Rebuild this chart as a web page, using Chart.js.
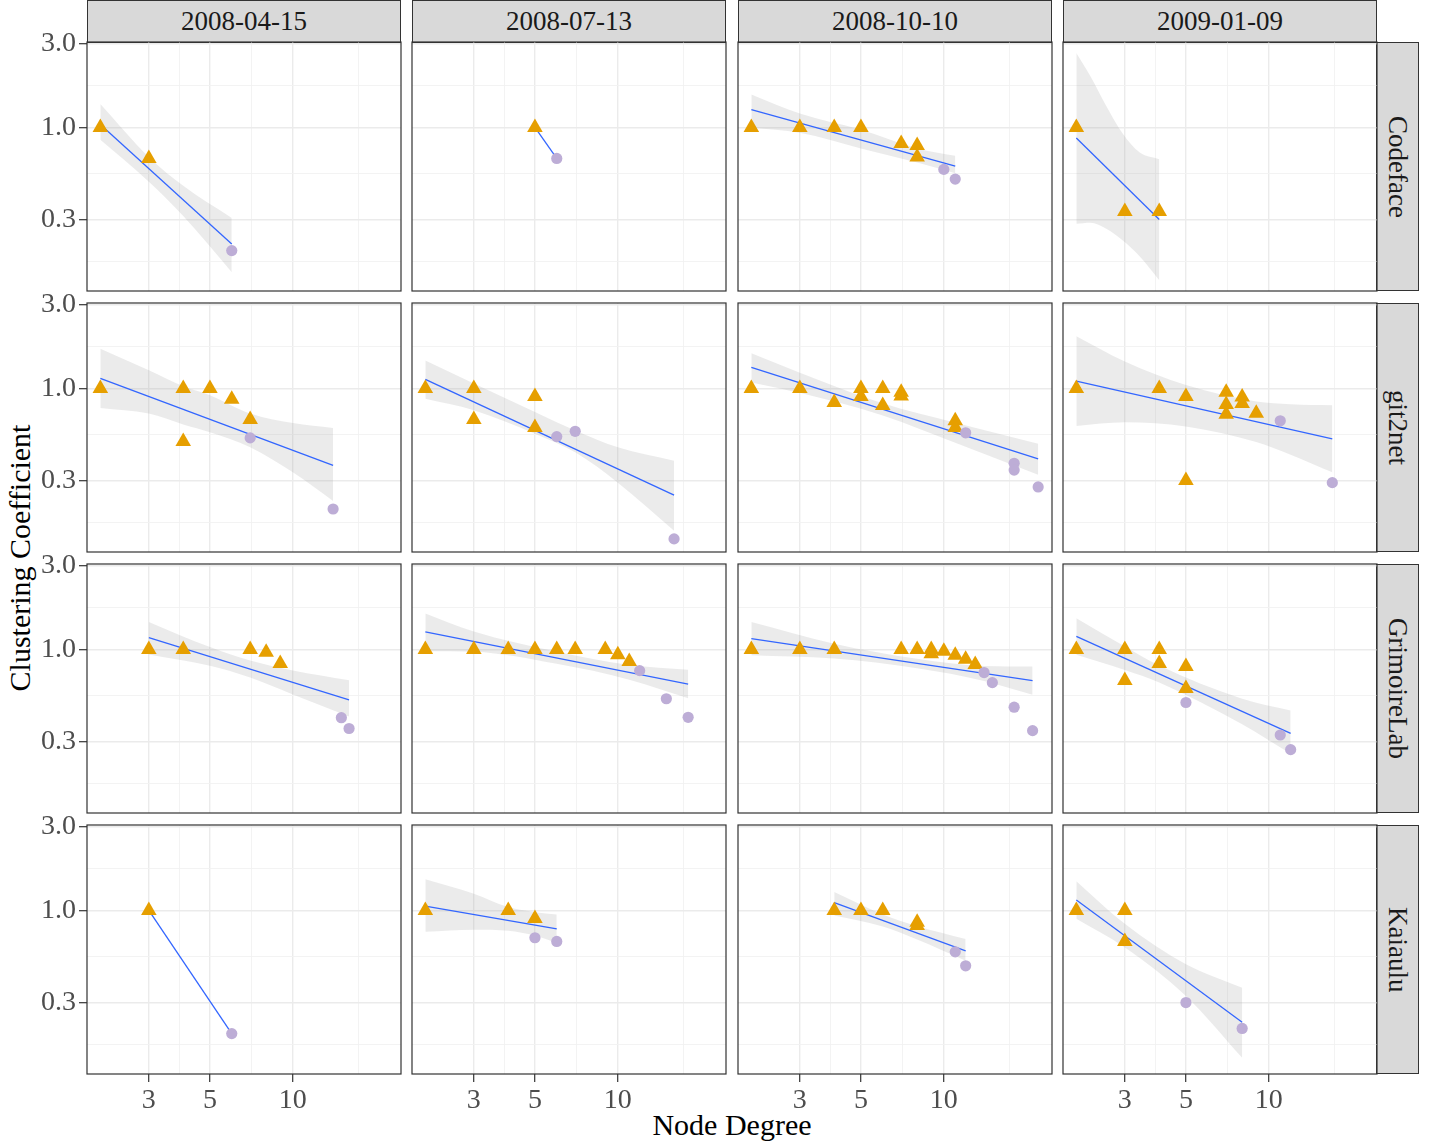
<!DOCTYPE html>
<html lang="en">
<head>
  <meta charset="UTF-8">
  <title>Clustering Coefficient vs Node Degree</title>
  <style>
    body { margin: 0; background: #fff; }
    #page {
      position: relative;
      width: 1437px;
      height: 1142px;
      background: #fff;
      font-family: 'Liberation Serif', 'DejaVu Serif', serif;
      overflow: hidden;
    }
    canvas { position: absolute; }
    .strip {
      position: absolute;
      box-sizing: border-box;
      background: #D9D9D9;
      border: 1px solid #333333;
      color: #1A1A1A;
      font-size: 27px;
      display: flex;
      align-items: center;
      justify-content: center;
    }
    .strip.right span { writing-mode: vertical-rl; }
    .title { position: absolute; font-size: 30px; color: #000; white-space: nowrap; }
  </style>
</head>
<body>
  <div id="page">
    <div class="title" style="left:87px; width:1290px; top:1108px; text-align:center;">Node Degree</div>
    <div class="title" style="left:20px; top:558px; transform:translate(-50%,-50%) rotate(-90deg);">Clustering Coefficient</div>
  </div>
  <script src="https://cdn.jsdelivr.net/npm/chart.js"></script>
  <script>
    // facettes : lignes = sources, colonnes = dates
    const sources = ['Codeface', 'git2net', 'GrimoireLab', 'Kaiaulu'];
    const dates = ['2008-04-15', '2008-07-13', '2008-10-10', '2009-01-09'];

    // graduations (log10)
    const degreeTicks = [3, 5, 10];
    const degreeGrid = [3, 3.873, 5, 7.071, 10, 17.32];
    const coefTicks = [0.3, 1, 3];
    const coefGrid = [0.1732, 0.3, 0.5477, 1, 1.732, 3];

    // triangles (orange), un tableau par panneau, ligne par ligne
    const triDegree = [
      [2, 3], [5], [2, 3, 4, 5, 7, 8, 8], [2, 3, 4],
      [2, 4, 5, 6, 7, 4], [2, 3, 3, 5, 5], [2, 3, 4, 5, 5, 6, 6, 7, 7, 11, 11], [2, 4, 5, 5, 7, 7, 7, 8, 8, 9],
      [3, 4, 7, 8, 9], [2, 3, 4, 5, 6, 7, 9, 10, 11], [2, 3, 4, 7, 8, 9, 9, 10, 11, 12, 13], [2, 3, 3, 4, 4, 5, 5],
      [3], [2, 4, 5], [4, 5, 6, 8, 8], [2, 3, 3]
    ];
    const triCoef = [
      [1, 0.667], [1], [1, 1, 1, 1, 0.81, 0.79, 0.68], [1, 0.333, 0.333],
      [1, 1, 1, 0.867, 0.667, 0.5], [1, 1, 0.667, 0.9, 0.6], [1, 1, 0.833, 1, 0.9, 1, 0.8, 0.952, 0.905, 0.655, 0.6], [1, 1, 0.9, 0.3, 0.952, 0.81, 0.714, 0.893, 0.821, 0.722],
      [1, 1, 1, 0.964, 0.833], [1, 1, 1, 1, 1, 1, 1, 0.933, 0.855], [1, 1, 1, 1, 1, 1, 0.944, 0.976, 0.927, 0.879, 0.82], [1, 1, 0.667, 1, 0.833, 0.8, 0.6],
      [1], [1, 1, 0.9], [1, 1, 1, 0.857, 0.821], [1, 1, 0.667]
    ];

    // cercles (violet)
    const circDegree = [
      [6], [6], [10, 11], [],
      [7, 14], [6, 7, 16], [12, 18, 18, 22], [11, 17],
      [15, 16], [12, 15, 18], [14, 15, 18, 21], [5, 11, 12],
      [6], [5, 6], [11, 12], [5, 8]
    ];
    const circCoef = [
      [0.2], [0.667], [0.578, 0.509], [],
      [0.524, 0.207], [0.533, 0.571, 0.14], [0.56, 0.376, 0.344, 0.276], [0.655, 0.292],
      [0.41, 0.356], [0.758, 0.525, 0.412], [0.739, 0.648, 0.47, 0.346], [0.5, 0.327, 0.27],
      [0.2], [0.7, 0.667], [0.582, 0.485], [0.3, 0.214]
    ];

    // droite de regression (extremites)
    const fitDegree = [
      [2, 6], [5, 6], [2, 11], [2, 4],
      [2, 14], [2, 16], [2, 22], [2, 17],
      [3, 16], [2, 18], [2, 21], [2, 12],
      [3, 6], [2, 6], [4, 12], [2, 8]
    ];
    const fitCoef = [
      [1.04, 0.218], [1, 0.667], [1.26, 0.604], [0.87, 0.3],
      [1.14, 0.366], [1.126, 0.248], [1.318, 0.398], [1.1, 0.518],
      [1.166, 0.518], [1.256, 0.636], [1.151, 0.665], [1.187, 0.334],
      [1, 0.2], [1.059, 0.785], [1.106, 0.59], [1.146, 0.232]
    ];

    // intervalle de confiance
    const bandDegree = [
      [2, 3, 4, 6], [], [2, 3, 5, 8, 11], [2, 2.25, 2.55, 2.95, 3.4, 4],
      [2, 3, 4, 5, 7, 10, 14], [2, 3, 5, 7, 10, 16], [2, 3, 6, 11, 22], [2, 3, 5, 9, 12, 17],
      [3, 5, 7, 10, 16], [2, 3, 6, 11, 18], [2, 4, 8, 14, 21], [2, 3, 4, 8, 12],
      [], [2, 3, 4, 5, 6], [4, 6, 8, 12], [2, 3, 5, 8]
    ];
    const bandHigh = [
      [1.36, 0.68, 0.466, 0.306], [], [1.54, 1.2, 0.97, 0.76, 0.69], [2.64, 1.95, 1.35, 0.92, 0.72, 0.66],
      [1.68, 1.27, 1.03, 0.916, 0.72, 0.636, 0.596], [1.44, 1.068, 0.735, 0.578, 0.464, 0.389], [1.585, 1.229, 0.823, 0.639, 0.485], [1.975, 1.42, 1.045, 0.843, 0.814, 0.803],
      [1.433, 1.031, 0.865, 0.759, 0.668], [1.6, 1.262, 0.97, 0.817, 0.768], [1.433, 1.077, 0.884, 0.805, 0.8], [1.504, 1.04, 0.81, 0.525, 0.45],
      [], [1.504, 1.245, 1.045, 0.978, 0.949], [1.273, 0.949, 0.814, 0.689], [1.465, 0.839, 0.495, 0.364]
    ];
    const bandLow = [
      [0.85, 0.491, 0.314, 0.151], [], [1.0, 0.932, 0.76, 0.632, 0.55], [0.284, 0.288, 0.268, 0.228, 0.185, 0.136],
      [0.775, 0.72, 0.625, 0.565, 0.464, 0.334, 0.23], [0.873, 0.752, 0.553, 0.434, 0.292, 0.156], [1.082, 0.944, 0.702, 0.491, 0.3236], [0.612, 0.642, 0.609, 0.497, 0.421, 0.334],
      [0.936, 0.807, 0.692, 0.555, 0.416], [0.978, 0.97, 0.828, 0.674, 0.529], [0.928, 0.888, 0.782, 0.663, 0.553], [0.932, 0.765, 0.65, 0.376, 0.256],
      [], [0.758, 0.778, 0.768, 0.72, 0.653], [0.936, 0.81, 0.683, 0.518], [0.896, 0.617, 0.327, 0.146]
    ];

    // mise en page des panneaux
    const colLeft = [87, 412, 738, 1063];
    const rowTop = [42, 303, 564, 825];
    const PW = 314, PH = 249, PAD = 24, YW = 60, XH = 40;
    const tickFont = { family: 'Liberation Serif', size: 28 };

    const page = document.getElementById('page');

    const panelBorder = {
      id: 'panelBorder',
      afterDraw(chart) {
        const { ctx, chartArea: a } = chart;
        ctx.save();
        ctx.strokeStyle = '#333333';
        ctx.lineWidth = 1.2;
        ctx.strokeRect(a.left, a.top, a.right - a.left, a.bottom - a.top);
        ctx.restore();
      }
    };

    function pts(xs, ys) {
      return xs.map((x, k) => ({ x, y: ys[k] }));
    }
    function isIn(list, v) {
      return list.some(t => Math.abs(t - v) < 1e-6);
    }

    function makeStrips() {
      dates.forEach((d, c) => {
        const el = document.createElement('div');
        el.className = 'strip';
        el.style.cssText = `left:${colLeft[c]}px;top:0;width:${PW}px;height:${rowTop[0] + 1}px;`;
        el.textContent = d;
        page.appendChild(el);
      });
      sources.forEach((s, r) => {
        const el = document.createElement('div');
        el.className = 'strip right';
        el.style.cssText = `left:${colLeft[3] + PW - 1}px;top:${rowTop[r]}px;width:43px;height:${PH}px;`;
        el.innerHTML = `<span>${s}</span>`;
        page.appendChild(el);
      });
    }

    function makePanel(r, c) {
      const i = r * 4 + c;
      const canvas = document.createElement('canvas');
      canvas.width = PW + YW + 2 * PAD;
      canvas.height = PH + XH + 2 * PAD;
      canvas.style.left = (colLeft[c] - YW - PAD) + 'px';
      canvas.style.top = (rowTop[r] - PAD) + 'px';
      canvas.style.width = canvas.width + 'px';
      canvas.style.height = canvas.height + 'px';
      page.appendChild(canvas);

      const showX = r === 3;
      const showY = c === 0;

      new Chart(canvas.getContext('2d'), {
        type: 'line',
        data: {
          datasets: [
            {
              data: pts(bandDegree[i], bandHigh[i]),
              borderColor: 'transparent', borderWidth: 0, pointRadius: 0,
              fill: false, cubicInterpolationMode: 'monotone', order: 3
            },
            {
              data: pts(bandDegree[i], bandLow[i]),
              borderColor: 'transparent', borderWidth: 0, pointRadius: 0,
              fill: '-1', backgroundColor: 'rgba(153,153,153,0.2)',
              cubicInterpolationMode: 'monotone', order: 3
            },
            {
              data: pts(fitDegree[i], fitCoef[i]),
              borderColor: '#3366FF', borderWidth: 1.3, pointRadius: 0,
              fill: false, tension: 0, order: 2
            },
            {
              data: pts(triDegree[i], triCoef[i]),
              showLine: false, pointStyle: 'triangle', pointRadius: 9,
              pointBackgroundColor: '#E69F00', pointBorderWidth: 0, order: 1
            },
            {
              data: pts(circDegree[i], circCoef[i]),
              showLine: false, pointStyle: 'circle', pointRadius: 5.6,
              pointBackgroundColor: '#BDADD6', pointBorderWidth: 0, order: 0
            }
          ]
        },
        options: {
          responsive: false,
          animation: false,
          events: [],
          layout: { padding: PAD },
          plugins: { legend: { display: false }, tooltip: { enabled: false } },
          scales: {
            x: {
              type: 'logarithmic',
              min: 1.789,
              max: 24.7,
              afterFit: s => { s.height = XH; },
              afterBuildTicks: s => { s.ticks = degreeGrid.map(v => ({ value: v })); },
              border: { display: false },
              grid: {
                color: ctx => isIn(degreeTicks, ctx.tick.value) ? '#EBEBEB' : '#F2F2F2',
                lineWidth: ctx => isIn(degreeTicks, ctx.tick.value) ? 1.4 : 0.9,
                tickColor: ctx => showX && isIn(degreeTicks, ctx.tick.value) ? '#333333' : 'rgba(0,0,0,0)',
                tickLength: 8,
                tickWidth: 1.2
              },
              ticks: {
                display: showX,
                autoSkip: false,
                maxRotation: 0,
                padding: 2,
                font: tickFont,
                color: '#4D4D4D',
                callback: v => isIn(degreeTicks, v) ? String(v) : ''
              }
            },
            y: {
              type: 'logarithmic',
              min: 0.118,
              max: 3.053,
              afterFit: s => { s.width = YW; },
              afterBuildTicks: s => { s.ticks = coefGrid.map(v => ({ value: v })); },
              border: { display: false },
              grid: {
                color: ctx => isIn(coefTicks, ctx.tick.value) ? '#EBEBEB' : '#F2F2F2',
                lineWidth: ctx => isIn(coefTicks, ctx.tick.value) ? 1.4 : 0.9,
                tickColor: ctx => showY && isIn(coefTicks, ctx.tick.value) ? '#333333' : 'rgba(0,0,0,0)',
                tickLength: 8,
                tickWidth: 1.2
              },
              ticks: {
                display: showY,
                autoSkip: false,
                padding: 3,
                font: tickFont,
                color: '#4D4D4D',
                callback: v => isIn(coefTicks, v) ? Number(v).toFixed(1) : ''
              }
            }
          }
        },
        plugins: [panelBorder]
      });
    }

    makeStrips();
    for (let r = 0; r < 4; r++) {
      for (let c = 0; c < 4; c++) makePanel(r, c);
    }
  </script>
</body>
</html>
